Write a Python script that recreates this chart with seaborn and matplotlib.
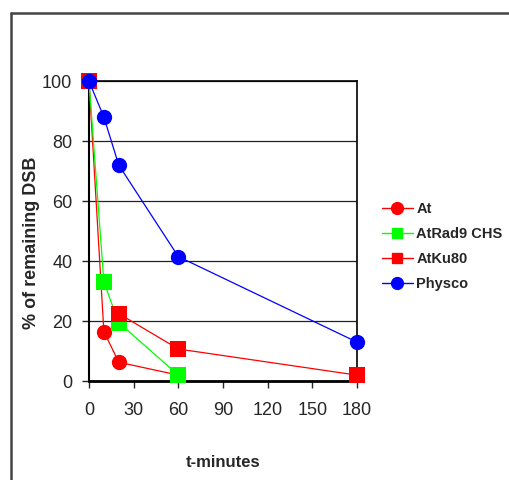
import pandas as pd
import seaborn as sns
import matplotlib.pyplot as plt
from matplotlib.lines import Line2D

# data (None = blank cell, gap in the line)
t = [0, 10, 20, 60, 180]
at = [100, 16.5, 6.3, 2, None]
rad9 = [100, 33, 19.5, 2, None]
ku80 = [100, None, 22.5, 10.7, 2]
phy = [100, 88, 72, 41.5, 13]

x_ticks = [0, 30, 60, 90, 120, 150, 180]
y_ticks = [0, 20, 40, 60, 80, 100]

sns.set_style('white')
plt.rcParams['font.family'] = ['Liberation Sans', 'DejaVu Sans']

fig = plt.figure(figsize=(5.1, 4.8), dpi=100)
ax = fig.add_axes([0.1745, 0.206, 0.5255, 0.625])

# same drawing order as the original series
series = [
    ('At', at, '#FF0000', 'o'),
    ('AtRad9 CHS', rad9, '#00FF00', 's'),
    ('AtKu80', ku80, '#FF0000', 's'),
    ('Physco', phy, '#0000FF', 'o'),
]
for i, (name, vals, c, m) in enumerate(series):
    df = pd.DataFrame({'t': t, 'v': vals})
    # split into runs of consecutive values, like Excel gaps
    df['run'] = df['v'].isna().cumsum()
    df = df.dropna()
    for _, seg in df.groupby('run'):
        sns.lineplot(data=seg, x='t', y='v', ax=ax, color=c, marker=m,
                     markersize=11, markeredgewidth=0, linewidth=0.9,
                     clip_on=False, zorder=3 + i)

ax.set_xlim(0, 180)
ax.set_ylim(0, 100)
ax.set_xticks(x_ticks)
ax.set_yticks(y_ticks)
ax.tick_params(labelsize=13, length=5, width=1, direction='out',
               bottom=True, left=True, pad=7)
ax.tick_params(axis='x', pad=10)
ax.yaxis.grid(True, color='#222222', linewidth=0.9)
ax.set_axisbelow(True)
for side in ['top', 'right']:
    ax.spines[side].set_color('black')
    ax.spines[side].set_linewidth(1.2)
ax.spines['left'].set_linewidth(1.5)
ax.spines['left'].set_color('black')
ax.spines['bottom'].set_linewidth(2)
ax.spines['bottom'].set_color('black')
ax.set_xlabel('t-minutes', fontsize=12, fontweight='bold', labelpad=26)
ax.set_ylabel('% of remaining DSB', fontsize=13, fontweight='bold')
ax.yaxis.set_label_coords(-0.183, 0.46)

handles = [
    Line2D([], [], color='#FF0000', marker='o', markersize=8.5, lw=1),
    Line2D([], [], color='#00FF00', marker='s', markersize=7, lw=1),
    Line2D([], [], color='#FF0000', marker='s', markersize=7, lw=1),
    Line2D([], [], color='#0000FF', marker='o', markersize=8.5, lw=1),
]
fig.legend(handles, ['At', 'AtRad9 CHS', 'AtKu80', 'Physco'],
           loc='center left', bbox_to_anchor=(0.729, 0.486), frameon=False,
           prop={'weight': 'bold', 'size': 10.5}, handlelength=2.1,
           labelspacing=0.76, handletextpad=0.25, borderpad=0.2)

# outer chart frame (left and top edges visible)
fig.add_artist(Line2D([0.021, 0.021], [0.0, 0.973], color='#444444', lw=1.8,
                      transform=fig.transFigure))
fig.add_artist(Line2D([0.021, 1.0], [0.973, 0.973], color='#444444', lw=1.8,
                      transform=fig.transFigure))

fig.savefig('out.png', dpi=100)
